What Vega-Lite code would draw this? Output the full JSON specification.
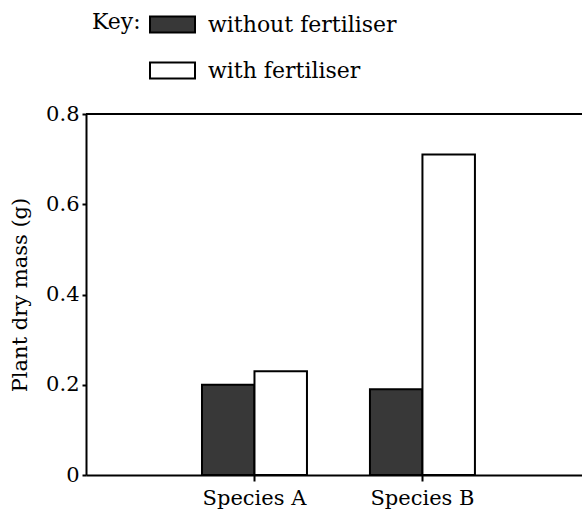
{
  "$schema": "https://vega.github.io/schema/vega-lite/v6.json",
  "autosize": {"type": "none"},
  "padding": {"left": 86, "top": 114, "right": 0, "bottom": 47},
  "width": 496,
  "height": 361,
  "background": "white",
  "config": {
    "view": {"stroke": null},
    "font": "DejaVu Serif",
    "axis": {"labelFont": "DejaVu Serif", "titleFont": "DejaVu Serif", "labelColor": "black", "titleColor": "black", "domainColor": "black", "tickColor": "black", "grid": false},
    "legend": {"labelFont": "DejaVu Serif", "titleFont": "DejaVu Serif"}
  },
  "data": {
    "values": [
      {"species": "Species A", "treatment": "without fertiliser", "mass": 0.20},
      {"species": "Species A", "treatment": "with fertiliser", "mass": 0.23},
      {"species": "Species B", "treatment": "without fertiliser", "mass": 0.19},
      {"species": "Species B", "treatment": "with fertiliser", "mass": 0.71}
    ]
  },
  "layer": [
    {
      "mark": {"type": "bar", "stroke": "black", "strokeWidth": 2},
      "encoding": {
        "x": {
          "field": "species", "type": "nominal",
          "scale": {"paddingInner": 0.375, "paddingOuter": 0.664, "align": 0.52},
          "axis": {"title": null, "labelAngle": 0, "labelFontSize": 21, "labelPadding": 6, "tickSize": 6, "tickWidth": 2, "domainWidth": 2, "labelDx": 12}
        },
        "xOffset": {"field": "treatment", "type": "nominal", "sort": ["without fertiliser", "with fertiliser"]},
        "y": {
          "field": "mass", "type": "quantitative",
          "scale": {"domain": [0, 0.8], "nice": false},
          "axis": {"title": "Plant dry mass (g)", "titleFontSize": 21, "titleFontWeight": "normal", "titlePadding": 15, "values": [0, 0.2, 0.4, 0.6, 0.8], "labelExpr": "datum.value == 0 ? '0' : format(datum.value, '.1f')", "labelFontSize": 21, "labelPadding": 3, "tickSize": 4, "tickWidth": 2, "domainWidth": 2}
        },
        "fill": {
          "field": "treatment", "type": "nominal",
          "scale": {"domain": ["without fertiliser", "with fertiliser"], "range": ["#383838", "white"]},
          "legend": {
            "title": "Key:", "orient": "none", "legendX": 6, "legendY": -113,
            "titleOrient": "left", "titleAnchor": "start", "titleFontSize": 22, "titleFontWeight": "normal", "titleColor": "black", "titlePadding": 8, "titleBaseline": "line-top", "titleLineHeight": 43,
            "labelFontSize": 22, "labelColor": "black", "labelOffset": 12, "labelLimit": 300,
            "symbolType": "M-1,-0.36H1V0.36H-1Z", "symbolSize": 2025, "symbolStrokeColor": "black", "symbolStrokeWidth": 2, "symbolOpacity": 1,
            "rowPadding": 10, "direction": "vertical"
          }
        }
      }
    },
    {
      "mark": {"type": "rule", "stroke": "black", "strokeWidth": 2},
      "encoding": {"y": {"datum": 0.8}}
    }
  ]
}
